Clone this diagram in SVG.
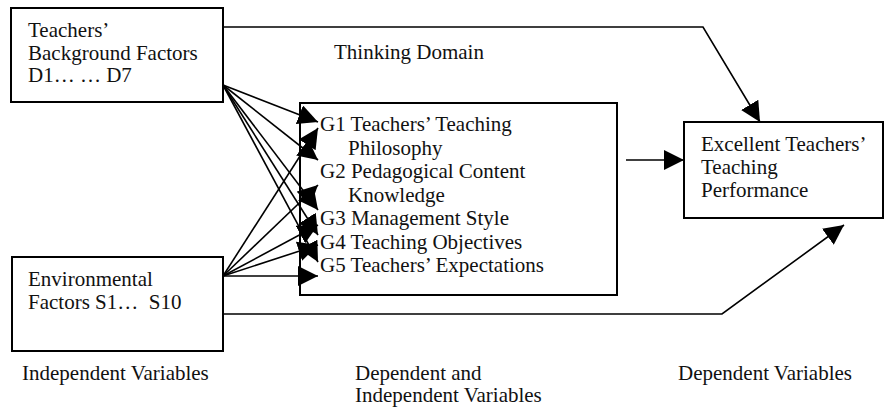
<svg xmlns="http://www.w3.org/2000/svg" width="887" height="409" viewBox="0 0 887 409">
<style>
  .box { fill: #fff; stroke: #000; stroke-width: 2; }
  .t { font-family: "Liberation Serif", "Times New Roman", serif; font-size: 21px; fill: #111; white-space: pre; }
  .ln { fill: none; stroke: #000; stroke-width: 1.6; }
</style>
<defs>
  <marker id="ah" markerUnits="userSpaceOnUse" markerWidth="20" markerHeight="20" viewBox="0 0 20 20" refX="20" refY="10" orient="auto">
    <path d="M0,0 L20,10 L0,20 z" fill="#000"/>
  </marker>
</defs>
<rect width="887" height="409" fill="#fff"/>

<g id="node-background">
  <rect class="box" x="11" y="8" width="212" height="94"/>
  <text class="t" x="28" y="37">Teachers’</text>
  <text class="t" x="28" y="59.5">Background Factors</text>
  <text class="t" x="28" y="82">D1… … D7</text>
</g>

<g id="node-environmental">
  <rect class="box" x="12" y="257" width="211" height="94"/>
  <text class="t" x="28" y="286">Environmental</text>
  <text class="t" x="28" y="309">Factors S1…  S10</text>
</g>

<g id="node-mediators">
  <rect class="box" x="300" y="103" width="317" height="192"/>
  <text class="t" x="320" y="131">G1 Teachers’ Teaching</text>
  <text class="t" x="348" y="154.5">Philosophy</text>
  <text class="t" x="320" y="178">G2 Pedagogical Content</text>
  <text class="t" x="348" y="201.5">Knowledge</text>
  <text class="t" x="320" y="225">G3 Management Style</text>
  <text class="t" x="320" y="248.5">G4 Teaching Objectives</text>
  <text class="t" x="320" y="272">G5 Teachers’ Expectations</text>
</g>

<g id="node-performance">
  <rect class="box" x="684" y="122" width="199" height="96"/>
  <text class="t" x="701" y="151">Excellent Teachers’</text>
  <text class="t" x="701" y="174">Teaching</text>
  <text class="t" x="701" y="197">Performance</text>
</g>

<g id="labels">
  <text class="t" x="334" y="59">Thinking Domain</text>
  <text class="t" x="22" y="380">Independent Variables</text>
  <text class="t" x="355" y="380">Dependent and</text>
  <text class="t" x="355" y="402">Independent Variables</text>
  <text class="t" x="678" y="380">Dependent Variables</text>
</g>

<g id="connectors">
  <polyline class="ln" points="223,27 703,27 760,122" marker-end="url(#ah)"/>
  <polyline class="ln" points="223,314 722,314 844,225" marker-end="url(#ah)"/>
  <line class="ln" x1="626" y1="160" x2="684" y2="160" marker-end="url(#ah)"/>
  <line class="ln" x1="223" y1="85" x2="318" y2="122" marker-end="url(#ah)"/>
  <line class="ln" x1="223" y1="85" x2="318" y2="160" marker-end="url(#ah)"/>
  <line class="ln" x1="223" y1="85" x2="318" y2="210" marker-end="url(#ah)"/>
  <line class="ln" x1="223" y1="85" x2="318" y2="235" marker-end="url(#ah)"/>
  <line class="ln" x1="223" y1="85" x2="318" y2="262" marker-end="url(#ah)"/>
  <line class="ln" x1="223" y1="276" x2="318" y2="128" marker-end="url(#ah)"/>
  <line class="ln" x1="223" y1="276" x2="318" y2="185" marker-end="url(#ah)"/>
  <line class="ln" x1="223" y1="276" x2="318" y2="225" marker-end="url(#ah)"/>
  <line class="ln" x1="223" y1="276" x2="318" y2="245" marker-end="url(#ah)"/>
  <line class="ln" x1="223" y1="276" x2="318" y2="276" marker-end="url(#ah)"/>
</g>
</svg>
